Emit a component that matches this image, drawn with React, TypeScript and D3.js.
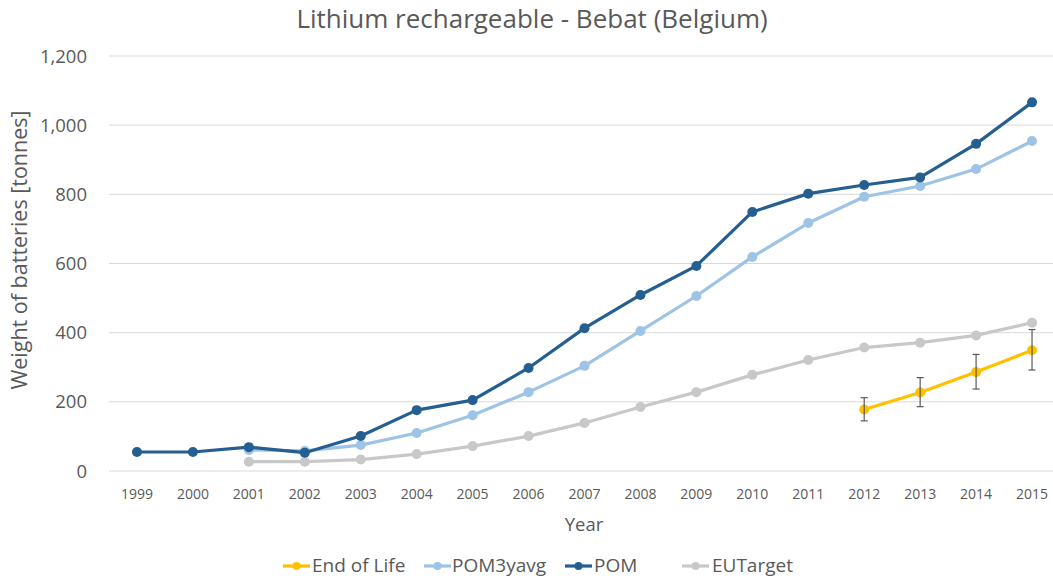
import React from 'react';
import * as d3 from 'd3';

const years = ['1999', '2000', '2001', '2002', '2003', '2004', '2005', '2006', '2007', '2008', '2009', '2010', '2011', '2012', '2013', '2014', '2015'];

// null = no value for that year
const pom = [55, 55, 69, 53, 101, 176, 205, 298, 413, 509, 593, 749, 802, 827, 849, 946, 1066];
const pom3yavg = [null, null, 61, 58, 75, 110, 161, 228, 304, 405, 506, 619, 717, 793, 824, 873, 954];
const euTarget = [null, null, 27, 27, 33, 49, 72, 101, 139, 185, 228, 278, 321, 357, 371, 392, 429];
const endOfLife = [null, null, null, null, null, null, null, null, null, null, null, null, null, 178, 227, 286, 349];
const eolErrUp = [null, null, null, null, null, null, null, null, null, null, null, null, null, 34, 43, 51, 60];
const eolErrDown = [null, null, null, null, null, null, null, null, null, null, null, null, null, 33, 41, 49, 57];

const yTicks = [0, 200, 400, 600, 800, 1000, 1200];

const series = [
  { name: 'End of Life', values: endOfLife, color: '#FFC000' },
  { name: 'POM3yavg', values: pom3yavg, color: '#9DC3E6' },
  { name: 'POM', values: pom, color: '#255E91' },
  { name: 'EUTarget', values: euTarget, color: '#C8C8C8' },
];
// drawing order: later on top
const drawOrder = ['EUTarget', 'POM3yavg', 'POM', 'End of Life'];

const W = 1053;
const H = 579;
const font = '"Open Sans", sans-serif';
const textColor = '#595959';

export default function App() {
  const x = d3.scalePoint<string>().domain(years).range([109, 1060]).padding(0.5);
  const y = d3.scaleLinear().domain([0, 1200]).range([471, 56]);
  const fmt = d3.format(',');

  const line = d3
    .line<number | null>()
    .defined((d) => d != null)
    .x((_, i) => x(years[i]) as number)
    .y((d) => y(d as number));

  const legendPos = [
    { lx: 283, tx: 312 },
    { lx: 424, tx: 452 },
    { lx: 565, tx: 594 },
    { lx: 682, tx: 712 },
  ];

  return (
    <svg width={W} height={H} style={{ position: 'absolute', left: 0, top: 0, background: '#fff' }}>
      <text x={532} y={28} textAnchor="middle" fontFamily={font} fontSize={26} fill={textColor}>
        Lithium rechargeable - Bebat (Belgium)
      </text>

      {yTicks.map((t) => (
        <g key={t}>
          <line x1={109} x2={1060} y1={y(t)} y2={y(t)} stroke="#D9D9D9" strokeWidth={1} />
          <text x={87} y={y(t) + 6.5} textAnchor="end" fontFamily={font} fontSize={18.5} fill={textColor}>
            {fmt(t)}
          </text>
        </g>
      ))}

      {years.map((yr) => (
        <text key={yr} x={x(yr)} y={499} textAnchor="middle" fontFamily={font} fontSize={14} fill={textColor}>
          {yr}
        </text>
      ))}

      <text x={584} y={531} textAnchor="middle" fontFamily={font} fontSize={18.5} fill={textColor}>
        Year
      </text>
      <text
        transform={`translate(27,250) rotate(-90)`}
        textAnchor="middle"
        fontFamily={font}
        fontSize={21.5}
        fill={textColor}
      >
        Weight of batteries [tonnes]
      </text>

      {drawOrder.map((name) => {
        const s = series.find((d) => d.name === name)!;
        return (
          <g key={name}>
            <path d={line(s.values) || ''} fill="none" stroke={s.color} strokeWidth={3.2} strokeLinejoin="round" />
            {s.values.map((v, i) =>
              v == null ? null : <circle key={i} cx={x(years[i])} cy={y(v)} r={5} fill={s.color} />
            )}
            {name === 'End of Life' &&
              s.values.map((v, i) => {
                if (v == null) return null;
                const cx = x(years[i]) as number;
                const top = y(v + (eolErrUp[i] as number));
                const bot = y(v - (eolErrDown[i] as number));
                return (
                  <g key={'e' + i} stroke="#595959" strokeWidth={1.2}>
                    <line x1={cx} x2={cx} y1={top} y2={bot} />
                    <line x1={cx - 3.5} x2={cx + 3.5} y1={top} y2={top} />
                    <line x1={cx - 3.5} x2={cx + 3.5} y1={bot} y2={bot} />
                  </g>
                );
              })}
          </g>
        );
      })}

      {series.map((s, i) => {
        const p = legendPos[i];
        return (
          <g key={s.name}>
            <line x1={p.lx} x2={p.lx + 27} y1={566} y2={566} stroke={s.color} strokeWidth={3.2} />
            <circle cx={p.lx + 13.5} cy={566} r={4} fill={s.color} />
            <text x={p.tx} y={572} fontFamily={font} fontSize={19} fill={textColor}>
              {s.name}
            </text>
          </g>
        );
      })}
    </svg>
  );
}
